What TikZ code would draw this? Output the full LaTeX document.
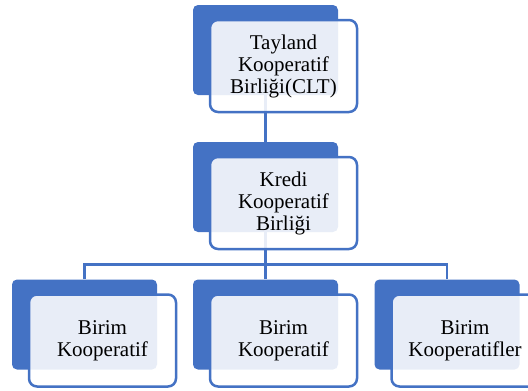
\documentclass[tikz,border=0pt]{standalone}
\usepackage{fontspec}
\setmainfont{Liberation Serif}
\newfontfamily\cardfont{Liberation Serif}
\usetikzlibrary{positioning,calc}
\definecolor{accent}{HTML}{4472C4}
\tikzset{
  back/.style={fill=accent,rounded corners=5pt,minimum width=145pt,minimum height=90pt,inner sep=0pt},
  front/.style={draw=accent,line width=2.5pt,fill=white,fill opacity=.88,text opacity=1,rounded corners=8pt,
    minimum width=147pt,minimum height=92pt,inner sep=0pt,align=center,
    font=\cardfont\fontsize{21}{22}\selectfont},
  link/.style={draw=accent,line width=2.5pt}
}
\begin{document}
\begin{tikzpicture}[x=1pt,y=-1pt]
  \useasboundingbox (0,0) rectangle (528,391);
  % back plates
  \node[back] (clt) at (265.5,50) {};
  \node[back] (kredi) at (265.5,187) {};
  \node[back] (birimA) at (84.5,324.5) {};
  \node[back] (birimB) at (265.5,324.5) {};
  \node[back] (birimC) at (447,324.5) {};

  % links run under the front cards
  \draw[link] (clt.south) -- (kredi.north);
  \draw[link] (kredi.south) -- (birimB.north);
  \draw[link] (birimA.north) -- ++(0,-15) -| (birimC.north);

  % front cards
  \node[front] (cltF) at ($(clt)+(18,16)$) {Tayland\\Kooperatif\\Birliği(CLT)};
  \node[front] (krediF) at ($(kredi)+(18,16)$) {Kredi\\Kooperatif\\Birliği};
  \node[front] (birimAF) at ($(birimA)+(18,16)$) {Birim\\Kooperatif};
  \node[front] (birimBF) at ($(birimB)+(18,16)$) {Birim\\Kooperatif};
  \node[front] (birimCF) at ($(birimC)+(18,16)$) {Birim\\Kooperatifler};
\end{tikzpicture}
\end{document}
